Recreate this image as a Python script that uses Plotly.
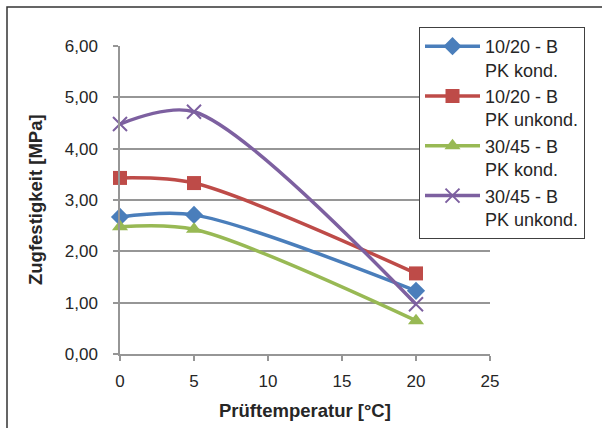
import plotly.graph_objects as go

# Data
temps = [0, 5, 20]
series_names = ["10/20 - B<br>PK kond.", "10/20 - B<br>PK unkond.",
                "30/45 - B<br>PK kond.", "30/45 - B<br>PK unkond."]
s1 = [2.67, 2.71, 1.23]
s2 = [3.43, 3.33, 1.57]
s3 = [2.48, 2.43, 0.65]
s4 = [4.48, 4.72, 0.97]
y_ticks = [0, 1, 2, 3, 4, 5, 6]
x_ticks = [0, 5, 10, 15, 20, 25]

colors = ["#4A7EBB", "#BE4B48", "#98B954", "#7D60A0"]
symbols = ["diamond", "square", "triangle-up", "x-thin"]
sizes = [14, 14, 14, 14]
values = [s1, s2, s3, s4]

FONT = "Liberation Sans, Arial, sans-serif"
TXT = "#262626"
GRID = "#969696"

fig = go.Figure()
for name, vals, c, sym, sz in zip(series_names, values, colors, symbols, sizes):
    marker = dict(symbol=sym, size=sz, color=c)
    if sym == "x-thin":
        marker["line"] = dict(color=c, width=2)
    fig.add_trace(go.Scatter(
        x=temps, y=vals, name=name, mode="lines+markers",
        line=dict(color=c, width=3.5, shape="spline", smoothing=0.85),
        marker=marker, cliponaxis=False,
    ))

fig.update_layout(
    width=602, height=428,
    margin=dict(l=120, r=112, t=46, b=74),
    paper_bgcolor="white", plot_bgcolor="white",
    separators=",.",
    font=dict(family=FONT, size=17, color=TXT),
    showlegend=True,
    legend=dict(
        x=(419 - 120) / 370, y=(354 - 27) / 308, xanchor="left", yanchor="top",
        bgcolor="white", bordercolor="#404040", borderwidth=1,
        font=dict(family=FONT, size=18, color=TXT),
        valign="top", tracegroupgap=1, itemwidth=55,
    ),
    xaxis=dict(
        range=[0, 25], tickvals=x_ticks, ticks="outside", ticklen=5,
        tickcolor=GRID, tickwidth=1.5, showline=True, linecolor=GRID, linewidth=1.5,
        showgrid=False, zeroline=False, ticklabelstandoff=6,
    ),
    yaxis=dict(
        range=[0, 6], tickvals=y_ticks, tickformat=".2f", ticks="outside", ticklen=5,
        tickcolor=GRID, tickwidth=1.5, showline=True, linecolor=GRID, linewidth=1.5,
        showgrid=True, gridcolor=GRID, gridwidth=1.5, zeroline=False,
        ticklabelstandoff=12,
    ),
    annotations=[
        dict(text="<b>Zugfestigkeit [MPa]</b>", xref="paper", yref="paper",
             x=(35 - 120) / 370, y=0.5, xanchor="center", yanchor="middle",
             textangle=-90, showarrow=False, font=dict(family=FONT, size=18.5, color=TXT)),
        dict(text="<b>Prüftemperatur [°C]</b>", xref="paper", yref="paper",
             x=0.5, y=(354 - 410) / 308, xanchor="center", yanchor="middle",
             showarrow=False, font=dict(family=FONT, size=18.5, color=TXT)),
    ],
    shapes=[
        dict(type="rect", xref="paper", yref="paper",
             x0=(7 - 120) / 370, x1=2, y0=-1, y1=(354 - 7) / 308,
             line=dict(color="#333333", width=1.5), fillcolor="rgba(0,0,0,0)", layer="below"),
    ],
)

fig.write_html("out.html", config={"displayModeBar": False},
               post_script="document.body.style.margin='0';")
